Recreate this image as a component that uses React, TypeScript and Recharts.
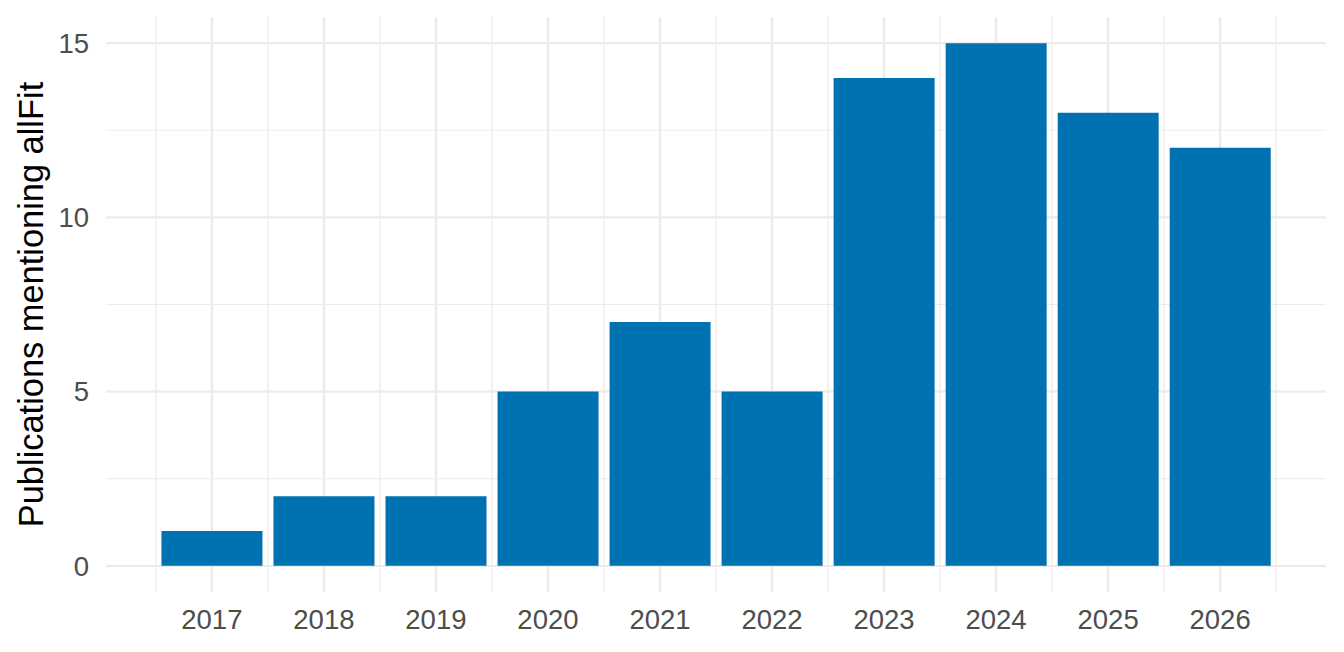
import { Bar, BarChart, CartesianGrid, Label, XAxis, YAxis } from "recharts";

const years = [2017, 2018, 2019, 2020, 2021, 2022, 2023, 2024, 2025, 2026];
const publications = [1, 2, 2, 5, 7, 5, 14, 15, 13, 12];
const yTicks = [0, 5, 10, 15];
const yMinor = [2.5, 7.5, 12.5];
const xMinor = [2016.5, 2017.5, 2018.5, 2019.5, 2020.5, 2021.5, 2022.5, 2023.5, 2024.5, 2025.5, 2026.5];

const data = years.map((year, i) => ({ year, count: publications[i] }));

// ggplot-style continuous scales: bar half-width 0.45 plus 5% expansion
const xLo = years[0] - 0.45;
const xHi = years[years.length - 1] + 0.45;
const xPad = (xHi - xLo) * 0.05;
const yMax = Math.max(...yTicks);
const yPad = yMax * 0.05;

const FONT = "'Liberation Sans', Arial, sans-serif";
const GRID = "#EBEBEB";

export default function App() {
    return (
        <div style={{ position: "absolute", left: 0, top: 0, background: "#fff" }}>
            <BarChart
                width={1344}
                height={652}
                data={data}
                margin={{ top: 17, right: 18, left: 0, bottom: 0 }}
                barCategoryGap="5%"
                style={{ fontFamily: FONT }}
            >
                <CartesianGrid
                    stroke={GRID}
                    strokeWidth={1.2}
                    horizontalValues={yMinor}
                    verticalValues={xMinor}
                />
                <CartesianGrid
                    stroke={GRID}
                    strokeWidth={2.4}
                    horizontalValues={yTicks}
                    verticalValues={years}
                />
                <XAxis
                    dataKey="year"
                    type="number"
                    domain={[xLo - xPad, xHi + xPad]}
                    allowDataOverflow
                    ticks={years}
                    height={60}
                    axisLine={false}
                    tickLine={false}
                    tickSize={0}
                    tickMargin={17}
                    tick={{ fill: "#4D4D4D", fontSize: 27.5, fontFamily: FONT }}
                />
                <YAxis
                    type="number"
                    domain={[-yPad, yMax + yPad]}
                    allowDataOverflow
                    ticks={yTicks}
                    width={106}
                    axisLine={false}
                    tickLine={false}
                    tickSize={0}
                    tickMargin={17}
                    tick={{ fill: "#4D4D4D", fontSize: 27.5, fontFamily: FONT }}
                >
                    <Label
                        content={(props: any) => {
                            const vb = props.viewBox || {};
                            const cx = 43;
                            const cy = (vb.y || 0) + (vb.height || 0) / 2;
                            return (
                                <text
                                    x={cx}
                                    y={cy}
                                    transform={`rotate(-90 ${cx} ${cy})`}
                                    textAnchor="middle"
                                    fill="#000"
                                    fontSize={34.4}
                                    fontFamily={FONT}
                                >
                                    Publications mentioning allFit
                                </text>
                            );
                        }}
                    />
                </YAxis>
                <Bar dataKey="count" fill="#0072B2" isAnimationActive={false} />
            </BarChart>
        </div>
    );
}
